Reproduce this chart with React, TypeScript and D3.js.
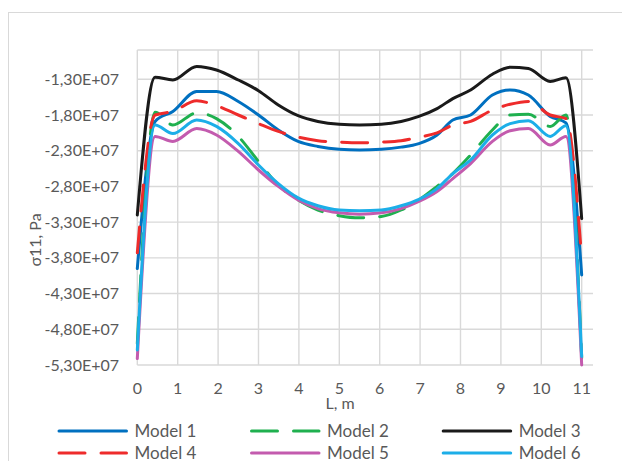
import React from "react";
import * as d3 from "d3";

// Beam length positions, m
const xs = [0, 0.44, 0.88, 1.47, 1.96, 2.5, 3.0, 3.49, 3.98, 4.47, 5.0, 5.5, 6.04, 6.53, 6.97, 7.42, 7.81, 8.25, 8.79, 9.23, 9.68, 10.22, 10.61, 11.0];

// Stress σ11 for each model, in units of 1e7 Pa
const model1 = [-3.95, -1.89, -1.75, -1.47, -1.47, -1.61, -1.80, -2.01, -2.17, -2.24, -2.28, -2.29, -2.28, -2.25, -2.20, -2.08, -1.87, -1.80, -1.52, -1.45, -1.52, -1.82, -1.91, -4.04];
const model2 = [-5.0, -1.76, -1.94, -1.77, -1.85, -2.10, -2.45, -2.78, -2.99, -3.13, -3.21, -3.24, -3.22, -3.13, -2.99, -2.80, -2.62, -2.36, -2.01, -1.80, -1.79, -1.96, -1.80, -5.2];
const model3 = [-3.20, -1.27, -1.31, -1.12, -1.17, -1.31, -1.46, -1.66, -1.81, -1.89, -1.93, -1.94, -1.93, -1.89, -1.82, -1.71, -1.57, -1.45, -1.23, -1.13, -1.15, -1.33, -1.28, -3.25];
const model4 = [-3.73, -1.80, -1.75, -1.60, -1.67, -1.80, -1.92, -2.03, -2.11, -2.16, -2.18, -2.19, -2.18, -2.16, -2.11, -2.05, -1.94, -1.89, -1.73, -1.65, -1.61, -1.80, -1.85, -3.81];
const model5 = [-5.21, -2.10, -2.17, -1.99, -2.08, -2.31, -2.57, -2.80, -2.99, -3.11, -3.17, -3.19, -3.17, -3.11, -3.01, -2.87, -2.69, -2.48, -2.17, -2.02, -1.99, -2.22, -2.10, -5.30];
const model6 = [-5.09, -1.94, -2.06, -1.87, -1.96, -2.20, -2.50, -2.76, -2.96, -3.07, -3.13, -3.14, -3.13, -3.07, -2.98, -2.83, -2.62, -2.43, -2.08, -1.92, -1.88, -2.10, -1.95, -5.18];

const seriesNames = ["Model 1", "Model 2", "Model 3", "Model 4", "Model 5", "Model 6"];
const seriesValues = [model1, model2, model3, model4, model5, model6];
const seriesColors = ["#0070C0", "#1FB04F", "#1a1a1a", "#EE2B2B", "#C35BAE", "#1CAEE8"];
const seriesDashed = [false, true, false, true, false, false];

const xTicks = [0, 1, 2, 3, 4, 5, 6, 7, 8, 9, 10, 11];
const yTicks = [-1.3e7, -1.8e7, -2.3e7, -2.8e7, -3.3e7, -3.8e7, -4.3e7, -4.8e7, -5.3e7];

const X_MAX = 11.28;
const Y_MIN = -5.3e7;
const Y_MAX = -0.89e7;

const FONT = "Lato, 'Open Sans', sans-serif";
const TEXT = "#595959";
const GRID = "#D9D9D9";

const fmtY = (v: number) => (v / 1e7).toFixed(2).replace(".", ",") + "E+07";

export default function App() {
  const W = 622;
  const H = 461;
  const left = 137.3;
  const right = 593;
  const top = 50;
  const bottom = 365;

  const x = d3.scaleLinear().domain([0, X_MAX]).range([left, right]);
  const y = d3.scaleLinear().domain([Y_MIN, Y_MAX]).range([bottom, top]);

  const line = d3
    .line<[number, number]>()
    .x((d) => x(d[0]))
    .y((d) => y(d[1] * 1e7))
    .curve(d3.curveMonotoneX);

  const dash = "26 16";

  const legendCols = [57.5, 250, 441.7];
  const legendRows = [431, 453];

  return (
    <svg
      width={W}
      height={H}
      style={{ position: "absolute", left: 0, top: 0, display: "block", background: "#fff" }}
    >
      <rect x={8.5} y={12.5} width={700} height={600} fill="#fff" stroke={GRID} strokeWidth={1} />

      {/* grid */}
      <g>
        {yTicks.map((t) => (
          <line key={"gy" + t} x1={left} x2={right} y1={y(t)} y2={y(t)} stroke={GRID} strokeWidth={1.4} />
        ))}
        <line x1={left} x2={right} y1={top} y2={top} stroke={GRID} strokeWidth={1.4} />
        {xTicks.map((t) => (
          <line key={"gx" + t} x1={x(t)} x2={x(t)} y1={top} y2={bottom} stroke={GRID} strokeWidth={1.4} />
        ))}
      </g>

      {/* y tick labels */}
      <g fontFamily={FONT} fontSize={16} fill={TEXT}>
        {yTicks.map((t) => (
          <text key={"ly" + t} x={119} y={y(t)} dy="0.35em" textAnchor="end">
            {fmtY(t)}
          </text>
        ))}
        {xTicks.map((t) => (
          <text key={"lx" + t} x={x(t)} y={394} textAnchor="middle">
            {t}
          </text>
        ))}
        <text x={340} y={409} textAnchor="middle">
          L, m
        </text>
        <text transform={`translate(41,240) rotate(-90)`} textAnchor="middle">
          σ11, Pa
        </text>
      </g>

      {/* series */}
      <g fill="none">
        {seriesValues.map((vals, i) => (
          <path
            key={seriesNames[i]}
            d={line(xs.map((xv, j) => [xv, vals[j]] as [number, number])) || ""}
            stroke={seriesColors[i]}
            strokeWidth={3}
            strokeLinecap="round"
            strokeLinejoin="round"
            strokeDasharray={seriesDashed[i] ? dash : undefined}
          />
        ))}
      </g>

      {/* legend */}
      <g fontFamily={FONT} fontSize={17} fill={TEXT}>
        {seriesNames.map((name, i) => {
          const cx = legendCols[i % 3];
          const cy = legendRows[Math.floor(i / 3)];
          return (
            <g key={"lg" + name}>
              <line
                x1={cx + 1.5}
                x2={cx + 69}
                y1={cy}
                y2={cy}
                stroke={seriesColors[i]}
                strokeWidth={3}
                strokeLinecap="round"
                strokeDasharray={seriesDashed[i] ? dash : undefined}
              />
              <text x={cx + 77} y={cy} dy="0.35em">
                {name}
              </text>
            </g>
          );
        })}
      </g>
    </svg>
  );
}
